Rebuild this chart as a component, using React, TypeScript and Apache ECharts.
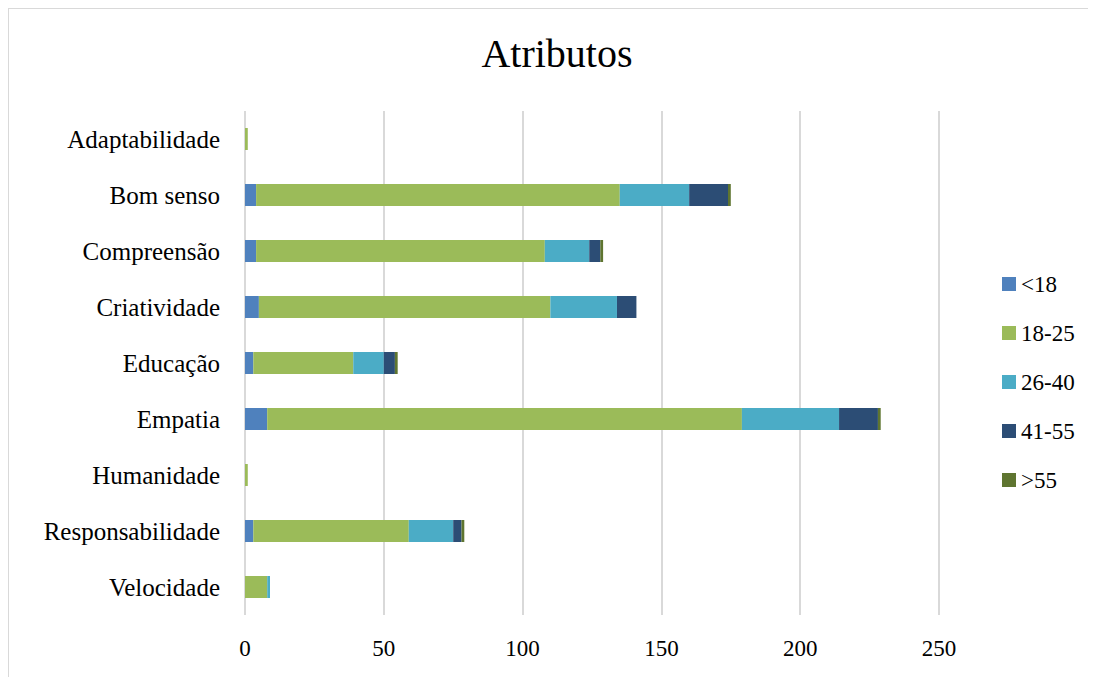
import React, { useEffect, useRef } from "react";
import * as echarts from "echarts";

const categories = [
  "Adaptabilidade",
  "Bom senso",
  "Compreensão",
  "Criatividade",
  "Educação",
  "Empatia",
  "Humanidade",
  "Responsabilidade",
  "Velocidade",
];

const seriesNames = ["<18", "18-25", "26-40", "41-55", ">55"];

const under18 = [0, 4, 4, 5, 3, 8, 0, 3, 0];
const age18to25 = [1, 131, 104, 105, 36, 171, 1, 56, 8];
const age26to40 = [0, 25, 16, 24, 11, 35, 0, 16, 1];
const age41to55 = [0, 14, 4, 7, 4, 14, 0, 3, 0];
const over55 = [0, 1, 1, 0, 1, 1, 0, 1, 0];

const xTicks = { min: 0, max: 250, interval: 50 };

const colors = ["#4F81BD", "#9BBB59", "#4BACC6", "#2C4D75", "#5F7530"];

const FONT = "Liberation Serif";

export default function App() {
  const ref = useRef<HTMLDivElement>(null);

  useEffect(() => {
    if (!ref.current) return;
    const chart = echarts.init(ref.current, undefined, { renderer: "svg" });
    const values = [under18, age18to25, age26to40, age41to55, over55];
    chart.setOption({
      animation: false,
      color: colors,
      textStyle: { fontFamily: FONT },
      graphic: [
        {
          type: "text",
          x: 548,
          y: 44.5,
          style: {
            text: "Atributos",
            fontFamily: FONT,
            fontSize: 40,
            fill: "#000",
            align: "center",
            verticalAlign: "middle",
          },
        },
      ],
      legend: {
        orient: "vertical",
        left: 988,
        top: 258,
        itemWidth: 14,
        itemHeight: 14,
        itemGap: 25,
        icon: "rect",
        data: seriesNames,
        formatter: (name: string) => `{t|${name}}`,
        textStyle: {
          fontFamily: FONT,
          fontSize: 23,
          lineHeight: 24,
          color: "#000",
          rich: {
            t: {
              fontFamily: FONT,
              fontSize: 23,
              lineHeight: 24,
              color: "#000",
            },
          },
        },
      },
      grid: {
        left: 236,
        top: 102,
        width: 694,
        height: 504,
        containLabel: false,
      },
      xAxis: {
        type: "value",
        min: xTicks.min,
        max: xTicks.max,
        interval: xTicks.interval,
        axisLine: { show: false },
        axisTick: { show: false },
        splitLine: { show: true, lineStyle: { color: "#d9d9d9", width: 2 } },
        axisLabel: {
          fontFamily: FONT,
          fontSize: 23,
          color: "#000",
          margin: 22,
        },
      },
      yAxis: {
        type: "category",
        inverse: true,
        data: categories,
        axisLine: { show: false },
        axisTick: { show: false },
        axisLabel: {
          fontFamily: FONT,
          fontSize: 25,
          color: "#000",
          margin: 25,
        },
      },
      series: seriesNames.map((name, i) => ({
        name,
        type: "bar",
        stack: "total",
        barWidth: 22,
        data: values[i],
        itemStyle: { color: colors[i] },
      })),
    });
    return () => chart.dispose();
  }, []);

  return (
    <div
      ref={ref}
      style={{
        width: 1100,
        height: 700,
        border: "1px solid #d9d9d9",
        background: "#fff",
      }}
    />
  );
}
